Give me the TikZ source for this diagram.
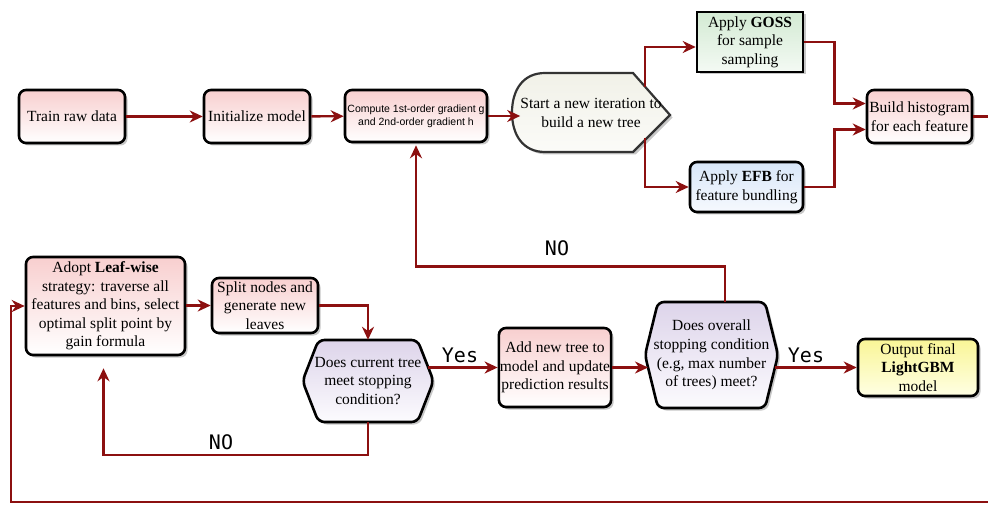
\documentclass[tikz,border=0pt]{standalone}
\usepackage{fontspec}
\setmainfont{Liberation Serif}
\newfontfamily\armono{DejaVu Sans Mono}
\newfontfamily\arsans{Liberation Sans}
\usetikzlibrary{arrows.meta,shadows,calc}
\definecolor{arrred}{HTML}{8C1010}
\definecolor{pinktop}{HTML}{F8CFCF}
\definecolor{greentop}{HTML}{D3EAD3}
\definecolor{greenbot}{HTML}{F4FAF4}
\definecolor{bluetop}{HTML}{D8E6F8}
\definecolor{bluebot}{HTML}{F6F9FE}
\definecolor{yeltop}{HTML}{F9F596}
\definecolor{yelbot}{HTML}{FFFFE4}
\definecolor{hextop}{HTML}{DDD4EA}
\definecolor{hexbot}{HTML}{FCFBFE}
\definecolor{starttop}{HTML}{F1F1E8}
\definecolor{startbot}{HTML}{FBFBF8}
\newcommand\hexpath[5]{(#1-#3,#2) -- (#1-#3+#5,#2-#4) -- (#1+#3-#5,#2-#4) -- (#1+#3,#2) -- (#1+#3-#5,#2+#4) -- (#1-#3+#5,#2+#4) -- cycle}
\tikzset{
  shad/.style={drop shadow={shadow xshift=2.5pt,shadow yshift=-2.5pt,fill=black!40,opacity=0.55}},
  basebox/.style={draw=black, line width=2.6pt, rounded corners=7pt, shad, align=center, inner sep=1pt,
    font=\fontsize{15.5}{18.6}\selectfont},
  pinkbox/.style={basebox, top color=pinktop, bottom color=white},
  greenbox/.style={basebox, top color=greentop, bottom color=greenbot},
  bluebox/.style={basebox, top color=bluetop, bottom color=bluebot},
  yelbox/.style={basebox, top color=yeltop, bottom color=yelbot},
  hexshape/.style={draw=black, line width=2.6pt, rounded corners=6pt, shad, top color=hextop, bottom color=hexbot},
  hextext/.style={align=center, inner sep=0pt, font=\fontsize{15.5}{18.6}\selectfont},
  arr/.style={draw=arrred, line width=2.4pt, -{Stealth[length=13pt,width=12pt]}},
  lbl/.style={font=\armono\fontsize{20}{22}\selectfont, inner sep=0pt}
}
\begin{document}
\begin{tikzpicture}[x=1pt,y=-1pt]
\clip (0,0) rectangle (988,505);
\fill[white] (0,0) rectangle (988,505);

% top row
\node[pinkbox, minimum width=106, minimum height=53] (train) at (72,116.5) {Train raw data};
\node[pinkbox, minimum width=106, minimum height=53] (init) at (257,116.5) {Initialize model};
\node[pinkbox, minimum width=142, minimum height=52, font=\arsans\fontsize{10.5}{13}\selectfont] (grad) at (416,116) {Compute 1st-order gradient g\\and 2nd-order gradient h};

\draw[draw=black!80, line width=2.2pt, shad, top color=starttop, bottom color=startbot]
  (545,73) -- (633,73) -- (670,115) -- (633,152) -- (545,152)
  .. controls (523,152) and (512,135) .. (512,112.5)
  .. controls (512,90) and (523,73) .. (545,73) -- cycle;
\node[align=center, inner sep=0pt, font=\fontsize{15.5}{19.5}\selectfont] (start) at (591,113) {Start a new iteration to\\build a new tree};
\coordinate (stup) at (645,87);
\coordinate (stdn) at (645,138);

\node[greenbox, sharp corners, minimum width=106, minimum height=60] (goss) at (750,42) {Apply \textbf{GOSS}\\for sample\\sampling};
\node[bluebox, minimum width=113, minimum height=50] (efb) at (746.5,187) {Apply \textbf{EFB} for\\feature bundling};
\node[pinkbox, minimum width=105, minimum height=53] (hist) at (919.5,116.5) {Build histogram\\for each feature};

% bottom row
\node[pinkbox, minimum width=159, minimum height=98] (leaf) at (105.5,306) {Adopt \textbf{Leaf-wise}\\strategy: traverse all\\features and bins, select\\optimal split point by\\gain formula};
\node[pinkbox, minimum width=106, minimum height=55] (split) at (265,305.5) {Split nodes and\\generate new\\leaves};

\draw[hexshape] \hexpath{368}{381}{65.5}{41}{16};
\node[hextext, minimum width=131, minimum height=82] (current) at (368,381) {Does current tree\\meet stopping\\condition?};

\node[pinkbox, minimum width=110, minimum height=79] (add) at (555,367.5) {Add new tree to\\model and update\\prediction results};

\draw[hexshape] \hexpath{711.5}{355}{66.5}{53}{13};
\node[hextext, minimum width=133, minimum height=106] (overall) at (711.5,355) {Does overall\\stopping condition\\(e.g, max number\\of trees) meet?};

\node[yelbox, minimum width=120, minimum height=57] (out) at (918,367.5) {Output final\\\textbf{LightGBM}\\model};

% named coordinates
\coordinate (curyes) at (427.5,367.5);
\coordinate (ovin) at (648,367.5);
\coordinate (ovout) at (775,367.5);
\coordinate (ovtop) at (725,302);
\coordinate (noturn) at (725,266.5);
\coordinate (cnoturn) at (368,455);
\coordinate (rt) at (993,116.5);
\coordinate (lb) at (11,502);

% connectors
\draw[arr] (train) -- (init);
\draw[arr] (init) -- (grad);
\draw[arr] (grad.east) -- (start.west |- grad.east);
\draw[arr] (stup) |- ($(goss.west)+(0,5)$);
\draw[arr] (stdn) |- (efb.west);
\draw[arr] (goss.east) -- ++(30,0) |- ($(hist.west)+(0,-13)$);
\draw[arr] (efb.east) -- ++(30,0) |- ($(hist.west)+(0,13)$);
\draw[arr] (hist.east) -- (rt) |- (lb) |- (leaf.west);
\draw[arr] (leaf.east |- split.east) -- (split.west);
\draw[arr] (split.east) -| (current.north);
\draw[arr] (curyes) -- (add.west);
\draw[arr] (add.east) -- (ovin);
\draw[arr] (ovout) -- (out.west);
\draw[arr, shorten >=2pt] (ovtop) -- (noturn) -| (grad.south);
\draw[arr, shorten >=12pt] (current.south) -- (cnoturn) -| ($(leaf.south)+(-2,0)$);

% labels
\node[lbl] (yes1) at (460,355) {Yes};
\node[lbl] (yes2) at (806,355) {Yes};
\node[lbl] (no1) at (557,248) {NO};
\node[lbl] (no2) at (221,442) {NO};
\end{tikzpicture}
\end{document}
